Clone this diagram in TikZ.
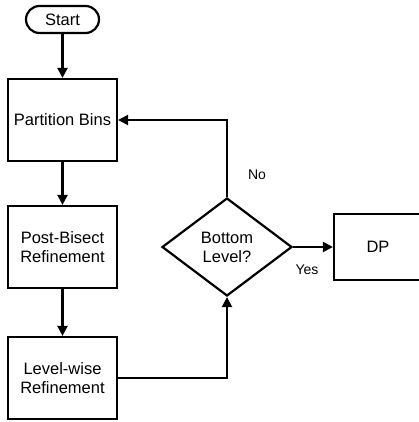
\documentclass[tikz,border=0pt]{standalone}
\usepackage{fontspec}
\setmainfont{Liberation Sans}
\usetikzlibrary{arrows.meta,shapes.geometric}
\begin{document}
\begin{tikzpicture}[x=1pt,y=-1pt,line width=2.2pt,
  txt/.style={font=\fontsize{16.5}{19}\selectfont,align=center},
  box/.style={txt,draw,rectangle,minimum width=109pt,minimum height=82pt,inner sep=0pt},
  pill/.style={txt,draw,rectangle,rounded corners=13.5pt,minimum width=73pt,minimum height=27pt,inner sep=0pt},
  decision/.style={txt,draw,diamond,minimum width=130pt,minimum height=98pt,inner sep=0pt},
  lab/.style={font=\fontsize{14}{16}\selectfont,inner sep=0pt},
  arr/.style={-{Triangle[length=10pt,width=10pt]}}]
\useasboundingbox (0,0) rectangle (419,422);
\clip (0,0) rectangle (419,422);
\node[pill] (start) at (62.5,19.5) {Start};
\node[box] (pb) at (62.5,120) {Partition Bins};
\node[box] (pbr) at (62.5,247) {Post-Bisect\\Refinement};
\node[box] (lw) at (62.5,378) {Level-wise\\Refinement};
\node[decision] (dec) at (227,247) {Bottom\\Level?};
\node[box,minimum width=88pt,minimum height=66pt] (dp) at (378,247) {DP};
\draw[arr] (start) -- (pb);
\draw[arr] (pb) -- (pbr);
\draw[arr] (pbr) -- (lw);
\draw[arr] (lw.east) -- (dec.south |- lw.east) -- (dec.south);
\draw[arr] (dec.north) -- (dec.north |- pb.east) -- (pb.east);
\draw[arr] (dec.east) -- (dp.west);
\node[lab] (no) at (257,175) {No};
\node[lab] (yes) at (307,270) {Yes};
\end{tikzpicture}
\end{document}
